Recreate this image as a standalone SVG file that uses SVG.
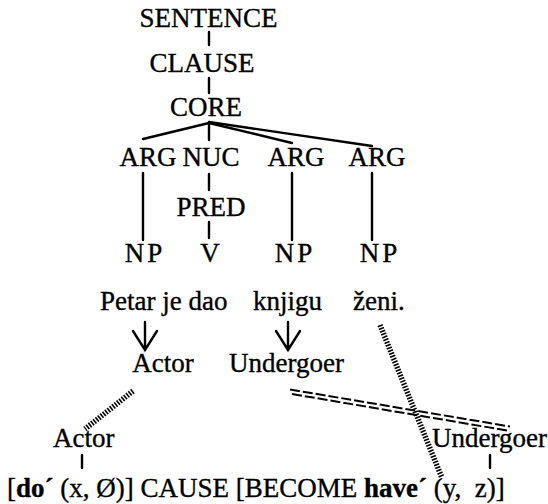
<svg xmlns="http://www.w3.org/2000/svg" width="548" height="504" viewBox="0 0 548 504">
<style>
text{font-family:"Liberation Serif","DejaVu Serif","Times New Roman",serif;font-size:27px;fill:#000;stroke:#000;stroke-width:0.35}
.c{text-anchor:middle}
.b{font-weight:bold}
.ln{stroke:#000;stroke-width:2.4;fill:none;stroke-linecap:round}
.hatch{stroke:#000;stroke-width:5.5;fill:none;stroke-dasharray:1.6 1.4}
.dbl{stroke:#000;stroke-width:2;fill:none;stroke-dasharray:10 3}
</style>
<rect width="548" height="504" fill="#fff"/>
<g id="connectors">
<line class="ln" x1="209" y1="32" x2="209" y2="45"/>
<line class="ln" x1="209" y1="78" x2="209" y2="93"/>
<line class="ln" x1="209" y1="123" x2="143" y2="139"/>
<line class="ln" x1="209" y1="123" x2="209" y2="140"/>
<line class="ln" x1="209" y1="123" x2="292" y2="143"/>
<line class="ln" x1="209" y1="122" x2="372" y2="146"/>
<line class="ln" x1="143" y1="173" x2="143" y2="240"/>
<line class="ln" x1="209" y1="174" x2="209" y2="190"/>
<line class="ln" x1="292" y1="173" x2="292" y2="240"/>
<line class="ln" x1="372" y1="173" x2="372" y2="240"/>
<line class="ln" x1="209" y1="222" x2="209" y2="238"/>
<path class="ln" d="M145 322V349M133 331L145 350L157 331"/>
<path class="ln" d="M288 322V349M276 331L288 350L300 331"/>
<line class="hatch" x1="133" y1="391" x2="85" y2="429"/>
<line class="dbl" x1="290" y1="389.5" x2="510" y2="426.5"/>
<line class="dbl" x1="292" y1="394" x2="510" y2="431"/>
<line class="hatch" x1="380" y1="325" x2="442" y2="478"/>
<line class="ln" x1="82" y1="455" x2="82" y2="468"/>
<line class="ln" x1="490" y1="455" x2="490" y2="468"/>
</g>
<g id="sentence"><text class="c" x="208.5" y="27">SENTENCE</text></g>
<g id="clause"><text class="c" x="202" y="72">CLAUSE</text></g>
<g id="core"><text class="c" x="206" y="116">CORE</text></g>
<g id="arg1"><text class="c" x="148" y="166">ARG</text></g>
<g id="nuc"><text class="c" x="211" y="166">NUC</text></g>
<g id="arg2"><text class="c" x="296" y="166">ARG</text></g>
<g id="arg3"><text class="c" x="377" y="166">ARG</text></g>
<g id="pred"><text class="c" x="211" y="216">PRED</text></g>
<g id="np1"><text class="c" x="145" y="262" letter-spacing="3">NP</text></g>
<g id="v"><text class="c" x="210" y="262">V</text></g>
<g id="np2"><text class="c" x="295" y="262" letter-spacing="3">NP</text></g>
<g id="np3"><text class="c" x="380" y="262" letter-spacing="3">NP</text></g>
<g id="w1"><text x="100" y="310">Petar je dao</text></g>
<g id="w2"><text x="253" y="310">knjigu</text></g>
<g id="w3"><text x="353" y="310">ženi.</text></g>
<g id="actor1"><text class="c" x="163" y="372">Actor</text></g>
<g id="undergoer1"><text x="229" y="372">Undergoer</text></g>
<g id="actor2"><text x="53" y="447">Actor</text></g>
<g id="undergoer2"><text x="432" y="447">Undergoer</text></g>
<g id="lsr"><text x="7" y="497" xml:space="preserve">[<tspan class="b">do´</tspan> (x, Ø)] CAUSE [BECOME <tspan class="b">have´</tspan> (y,  z)]</text></g>
</svg>
